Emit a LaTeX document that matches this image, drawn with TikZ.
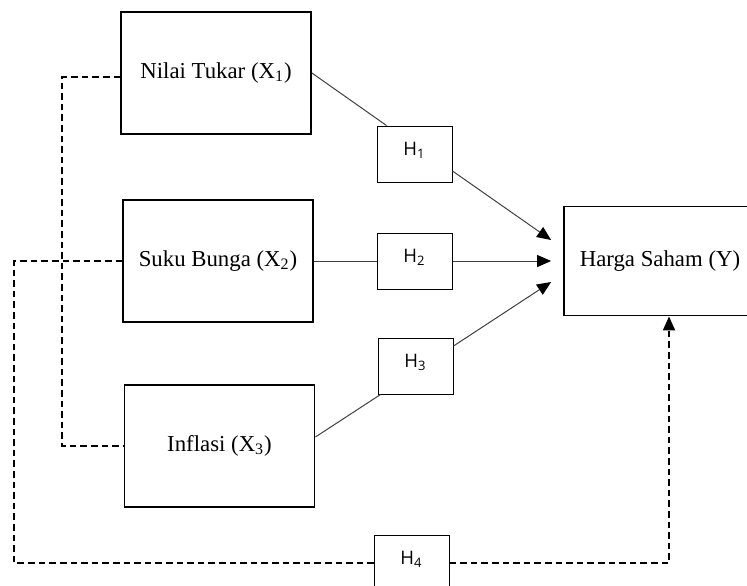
\documentclass[tikz,border=0pt]{standalone}
\usepackage{fontspec}
\setmainfont{Liberation Serif}
\newfontfamily\hfont{Open Sans}
\usetikzlibrary{arrows.meta}

\begin{document}
\begin{tikzpicture}[x=0.5pt, y=-0.5pt,
    var/.style={draw, line width=0.9pt, minimum width=95pt, minimum height=61pt,
        font=\fontsize{11.4}{13.7}\selectfont},
    hyp/.style={draw, line width=0.5pt, minimum width=37.5pt, minimum height=28pt,
        text height=5.5pt, text depth=4.5pt, font=\hfont\fontsize{9.3}{11}\selectfont},
    effect/.style={draw=black!75, line width=0.5pt},
    link/.style={line width=0.9pt, dash pattern=on 3.3pt off 2pt},
    head/.style={-{Triangle[length=7pt, width=6pt, color=black]}}]
    \useasboundingbox (0, 0) rectangle (747, 585);

%%   kw   (name)   (x, y)   {text}
    \node[var] (x1) at (216, 73)    {Nilai Tukar (X\textsubscript{1})};
    \node[var] (x2) at (218, 261)   {Suku Bunga (X\textsubscript{2})};
    \node[var] (x3) at (219.5, 446) {Inflasi (X\textsubscript{3})};
    \node[var, minimum width=96pt, minimum height=54.5pt] (y) at (660, 261) {Harga Saham (Y)};

    \node[hyp] (h1) at (414.5, 154) {H\textsubscript{1}};
    \node[hyp] (h2) at (414.5, 261) {H\textsubscript{2}};
    \node[hyp] (h3) at (415.5, 366) {H\textsubscript{3}};
    \node[hyp] (h4) at (411.5, 563) {H\textsubscript{4}};

    \draw[effect] (x1.east) -- ([xshift=5pt]h1.north west);
    \draw[effect, head] ([yshift=-8.5pt]h1.east) -- ([xshift=-6pt, yshift=10.5pt]y.west);
    \draw[effect] (x2.east) -- (h2.west);
    \draw[effect, head] (h2.east) -- ([xshift=-6pt]y.west);
    \draw[effect] ([yshift=4.5pt]x3.east) -- ([xshift=1.5pt]h3.south west);
    \draw[effect, head] ([yshift=10pt]h3.east) -- ([xshift=-6pt, yshift=-10.5pt]y.west);

    \draw[link] ([yshift=-2pt]x1.west) -- ++(-58, 0) |- (x3.west);
    \draw[link] (x2.west) -- ++(-108, 0) |- (h4.west);
    \draw[link, head] (h4.east) -| ([xshift=4.5pt]y.south);
\end{tikzpicture}
\end{document}
